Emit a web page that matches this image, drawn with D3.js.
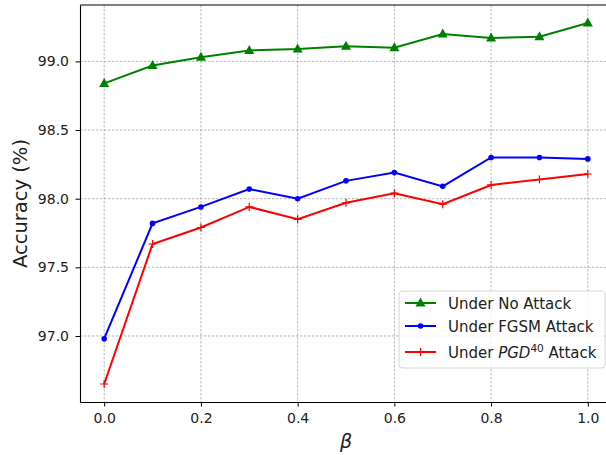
<!DOCTYPE html>
<html>
<head>
<meta charset="utf-8">
<script src="https://cdn.jsdelivr.net/npm/d3@7"></script>
<style>
  body { margin: 0; background: #fff; }
  svg { display: block; font-family: "DejaVu Sans", sans-serif; }
</style>
</head>
<body>
<svg width="606" height="455"></svg>
<script>
const betas = [0.0, 0.1, 0.2, 0.3, 0.4, 0.5, 0.6, 0.7, 0.8, 0.9, 1.0];
const noAttack = [98.84, 98.97, 99.03, 99.08, 99.09, 99.11, 99.10, 99.20, 99.17, 99.18, 99.28];
const fgsm = [96.98, 97.82, 97.94, 98.07, 98.00, 98.13, 98.19, 98.09, 98.30, 98.30, 98.29];
const pgd = [96.65, 97.67, 97.79, 97.94, 97.85, 97.97, 98.04, 97.96, 98.10, 98.14, 98.18];
const xTicks = [0, 0.2, 0.4, 0.6, 0.8, 1.0];
const yTicks = [97.0, 97.5, 98.0, 98.5, 99.0];

const svg = d3.select('svg');

const plotLeft = 80, plotRight = 612, plotTop = 5, plotBottom = 402;

const xScale = d3.scaleLinear().domain([-0.05, 1.05]).range([plotLeft, plotRight]);
const yScale = d3.scaleLinear().domain([96.519, 99.411]).range([plotBottom, plotTop]);

// grid
const grid = svg.append('g');
grid.selectAll('.gx').data(xTicks).join('line')
    .attr('x1', d => xScale(d)).attr('x2', d => xScale(d))
    .attr('y1', plotTop).attr('y2', plotBottom)
    .attr('stroke', '#999').attr('stroke-width', 0.7).attr('stroke-dasharray', '2.5,1.5');
grid.selectAll('.gy').data(yTicks).join('line')
    .attr('x1', plotLeft).attr('x2', plotRight)
    .attr('y1', d => yScale(d)).attr('y2', d => yScale(d))
    .attr('stroke', '#999').attr('stroke-width', 0.7).attr('stroke-dasharray', '2.5,1.5');

const xAxis = d3.axisBottom(xScale).tickValues(xTicks).tickFormat(d3.format('.1f'))
    .tickSizeInner(4.5).tickSizeOuter(0).tickPadding(6.5);
const yAxis = d3.axisLeft(yScale).tickValues(yTicks).tickFormat(d3.format('.1f'))
    .tickSizeInner(4.5).tickSizeOuter(0).tickPadding(6.5);

const gx = svg.append('g')
    .attr('transform', `translate(0, ${plotBottom})`)
    .call(xAxis);
const gy = svg.append('g')
    .attr('transform', `translate(${plotLeft}, 0)`)
    .call(yAxis);

[gx, gy].forEach(g => {
    g.selectAll('text').attr('font-size', 14).attr('fill', '#222').attr('font-family', '"DejaVu Sans", sans-serif');
    g.selectAll('.tick line').attr('stroke', '#000').attr('stroke-width', 1);
    g.select('.domain').attr('stroke', '#000').attr('stroke-width', 1.1);
});

// top spine
svg.append('line').attr('x1', plotLeft).attr('x2', plotRight).attr('y1', plotTop).attr('y2', plotTop)
    .attr('stroke', '#000').attr('stroke-width', 1.1);

svg.append('text')
    .attr('transform', `translate(27, ${(plotTop + plotBottom) / 2}) rotate(-90)`)
    .attr('text-anchor', 'middle')
    .attr('font-size', 19.5)
    .attr('fill', '#222')
    .text('Accuracy (%)');

svg.append('text')
    .attr('x', xScale(0.5))
    .attr('y', 448)
    .attr('text-anchor', 'middle')
    .attr('font-size', 19)
    .attr('font-style', 'italic')
    .attr('fill', '#222')
    .text('β');

const line = d3.line()
    .x((d, i) => xScale(betas[i]))
    .y(d => yScale(d));

const series = [
    {values: noAttack, color: 'green', marker: 'triangle'},
    {values: fgsm, color: 'blue', marker: 'dot'},
    {values: pgd, color: 'red', marker: 'plus'},
];

function drawMarker(g, type, color, x, y) {
    if (type === 'triangle') {
        g.append('path')
            .attr('d', `M${x},${y - 5.5}L${x + 5},${y + 3.5}L${x - 5},${y + 3.5}Z`)
            .attr('fill', color);
    } else if (type === 'dot') {
        g.append('circle').attr('cx', x).attr('cy', y).attr('r', 2.8).attr('fill', color);
    } else {
        g.append('path')
            .attr('d', `M${x - 4},${y}H${x + 4}M${x},${y - 4}V${y + 4}`)
            .attr('stroke', color).attr('stroke-width', 1.2).attr('fill', 'none');
    }
}

series.forEach(s => {
    svg.append('path')
        .attr('d', line(s.values))
        .attr('fill', 'none')
        .attr('stroke', s.color)
        .attr('stroke-width', 2);
    const g = svg.append('g');
    s.values.forEach((v, i) => drawMarker(g, s.marker, s.color, xScale(betas[i]), yScale(v)));
});

// legend
const lg = svg.append('g').attr('transform', 'translate(399, 291)');
lg.append('rect')
    .attr('width', 206).attr('height', 77).attr('rx', 3)
    .attr('fill', 'rgba(255,255,255,0.8)').attr('stroke', '#d6d6d6').attr('stroke-width', 1);

const labels = ['Under No Attack', 'Under FGSM Attack', null];
const rowY = [12, 35, 61];
series.forEach((s, i) => {
    const y = rowY[i];
    lg.append('line').attr('x1', 6).attr('x2', 37).attr('y1', y).attr('y2', y)
        .attr('stroke', s.color).attr('stroke-width', 2);
    drawMarker(lg, s.marker, s.color, 21.5, y);
    const t = lg.append('text').attr('x', 49).attr('y', y + 5.5)
        .attr('font-size', 15).attr('fill', '#222');
    if (labels[i]) {
        t.text(labels[i]);
    } else {
        t.append('tspan').text('Under ');
        t.append('tspan').attr('font-style', 'italic').text('PGD');
        t.append('tspan').attr('font-size', 10.5).attr('dy', -6).text('40');
        t.append('tspan').attr('dy', 6).text(' Attack');
    }
});
</script>
</body>
</html>
